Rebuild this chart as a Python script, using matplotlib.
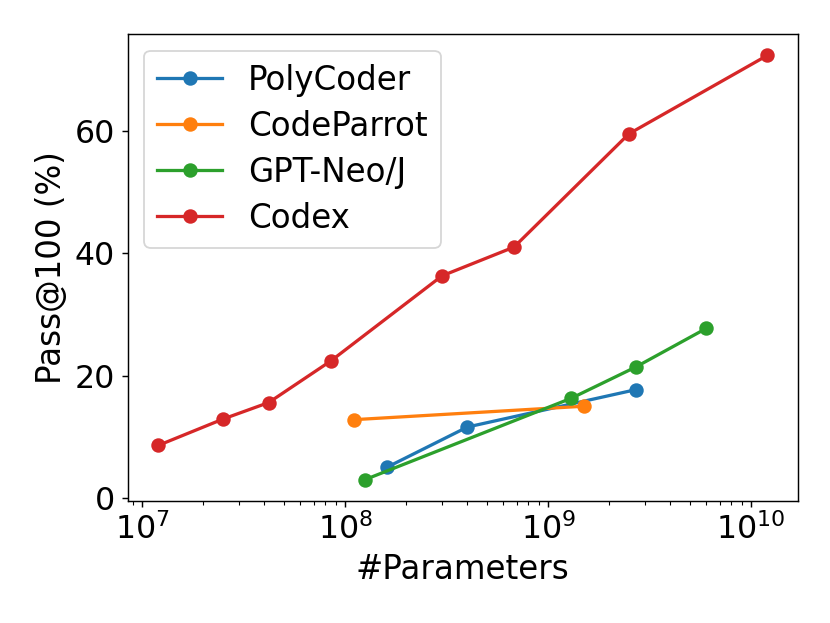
import numpy as np
import matplotlib.pyplot as plt

# model sizes (#params) and pass@100 (%)
poly_params = [160e6, 400e6, 2.7e9]
poly_pass = [5.0, 11.6, 17.7]

parrot_params = [110e6, 1.5e9]
parrot_pass = [12.8, 15.0]

neo_params = [125e6, 1.3e9, 2.7e9, 6e9]
neo_pass = [3.0, 16.3, 21.4, 27.7]

codex_params = [12e6, 25e6, 42e6, 85e6, 300e6, 679e6, 2.5e9, 12e9]
codex_pass = [8.6, 12.9, 15.6, 22.4, 36.3, 41.0, 59.5, 72.3]

plt.rcParams['font.size'] = 18
plt.rcParams['xtick.labelsize'] = 17.5
plt.rcParams['ytick.labelsize'] = 17.5

fig, ax = plt.subplots(figsize=(830/130, 623/130), dpi=130)
style = dict(marker='o', markersize=7, linewidth=1.8)
ax.plot(poly_params, poly_pass, label='PolyCoder', **style)
ax.plot(parrot_params, parrot_pass, label='CodeParrot', **style)
ax.plot(neo_params, neo_pass, label='GPT-Neo/J', **style)
ax.plot(codex_params, codex_pass, label='Codex', **style)

ax.set_xscale('log')
ax.set_xlabel('#Parameters')
ax.set_ylabel('Pass@100 (%)')
ax.set_yticks([0, 20, 40, 60])
ax.legend(loc='upper left', fontsize=18, labelspacing=0.4)

plt.subplots_adjust(left=0.154, right=0.961, bottom=0.196, top=0.945)
plt.savefig('out.png')
